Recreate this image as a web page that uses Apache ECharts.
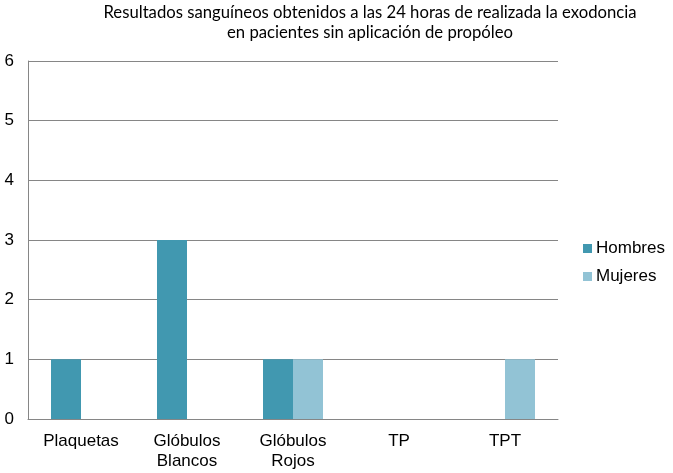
<!DOCTYPE html>
<html><head><meta charset="utf-8">
<script src="https://cdn.jsdelivr.net/npm/echarts@6/dist/echarts.min.js"></script>
<style>html,body{margin:0;padding:0;background:#fff}#c{width:673px;height:473px}</style>
</head><body><div id="c"></div>
<script>
const categories = ['Plaquetas', 'Glóbulos\nBlancos', 'Glóbulos\nRojos', 'TP', 'TPT'];
const hombres = [1, 3, 1, 0, 0];
const mujeres = [0, 0, 1, 0, 1];
const yTicks = [0, 1, 2, 3, 4, 5, 6];

const chart = echarts.init(document.getElementById('c'));
chart.setOption({
  animation: false,
  backgroundColor: '#fff',
  title: {
    text: 'Resultados sanguíneos obtenidos a las 24 horas de realizada la exodoncia\nen pacientes sin aplicación de propóleo',
    left: 365, top: -2, textAlign: 'center',
    textStyle: { fontFamily: 'Lato, Open Sans', fontSize: 16.7, fontWeight: 'normal', color: '#000', lineHeight: 20 }
  },
  legend: {
    orient: 'vertical', left: 578, top: 235,
    itemWidth: 9, itemHeight: 9, itemGap: 11,
    icon: 'rect',
    textStyle: { fontFamily: 'Liberation Sans, Arial', fontSize: 17, color: '#000', padding: [0, 0, 0, -1] },
    data: ['Hombres', 'Mujeres']
  },
  grid: { left: 28, right: 115, top: 61, bottom: 54 },
  xAxis: {
    type: 'category', data: categories,
    axisLine: { lineStyle: { color: '#868686', width: 1 } },
    axisTick: { show: false },
    axisLabel: { fontFamily: 'Liberation Sans, Arial', fontSize: 17, color: '#000', margin: 12, lineHeight: 20 }
  },
  yAxis: {
    type: 'value', min: yTicks[0], max: yTicks[yTicks.length - 1], interval: 1,
    axisLine: { show: true, lineStyle: { color: '#868686', width: 1 } },
    axisTick: { show: false },
    splitLine: { lineStyle: { color: '#868686', width: 1 } },
    axisLabel: { fontFamily: 'Liberation Sans, Arial', fontSize: 17, color: '#000', margin: 14 }
  },
  series: [
    { name: 'Hombres', type: 'bar', data: hombres, barWidth: 30, barGap: '0%', itemStyle: { color: '#4198B0' } },
    { name: 'Mujeres', type: 'bar', data: mujeres, barWidth: 30, barGap: '0%', itemStyle: { color: '#92C3D5' } }
  ]
});
</script></body></html>
